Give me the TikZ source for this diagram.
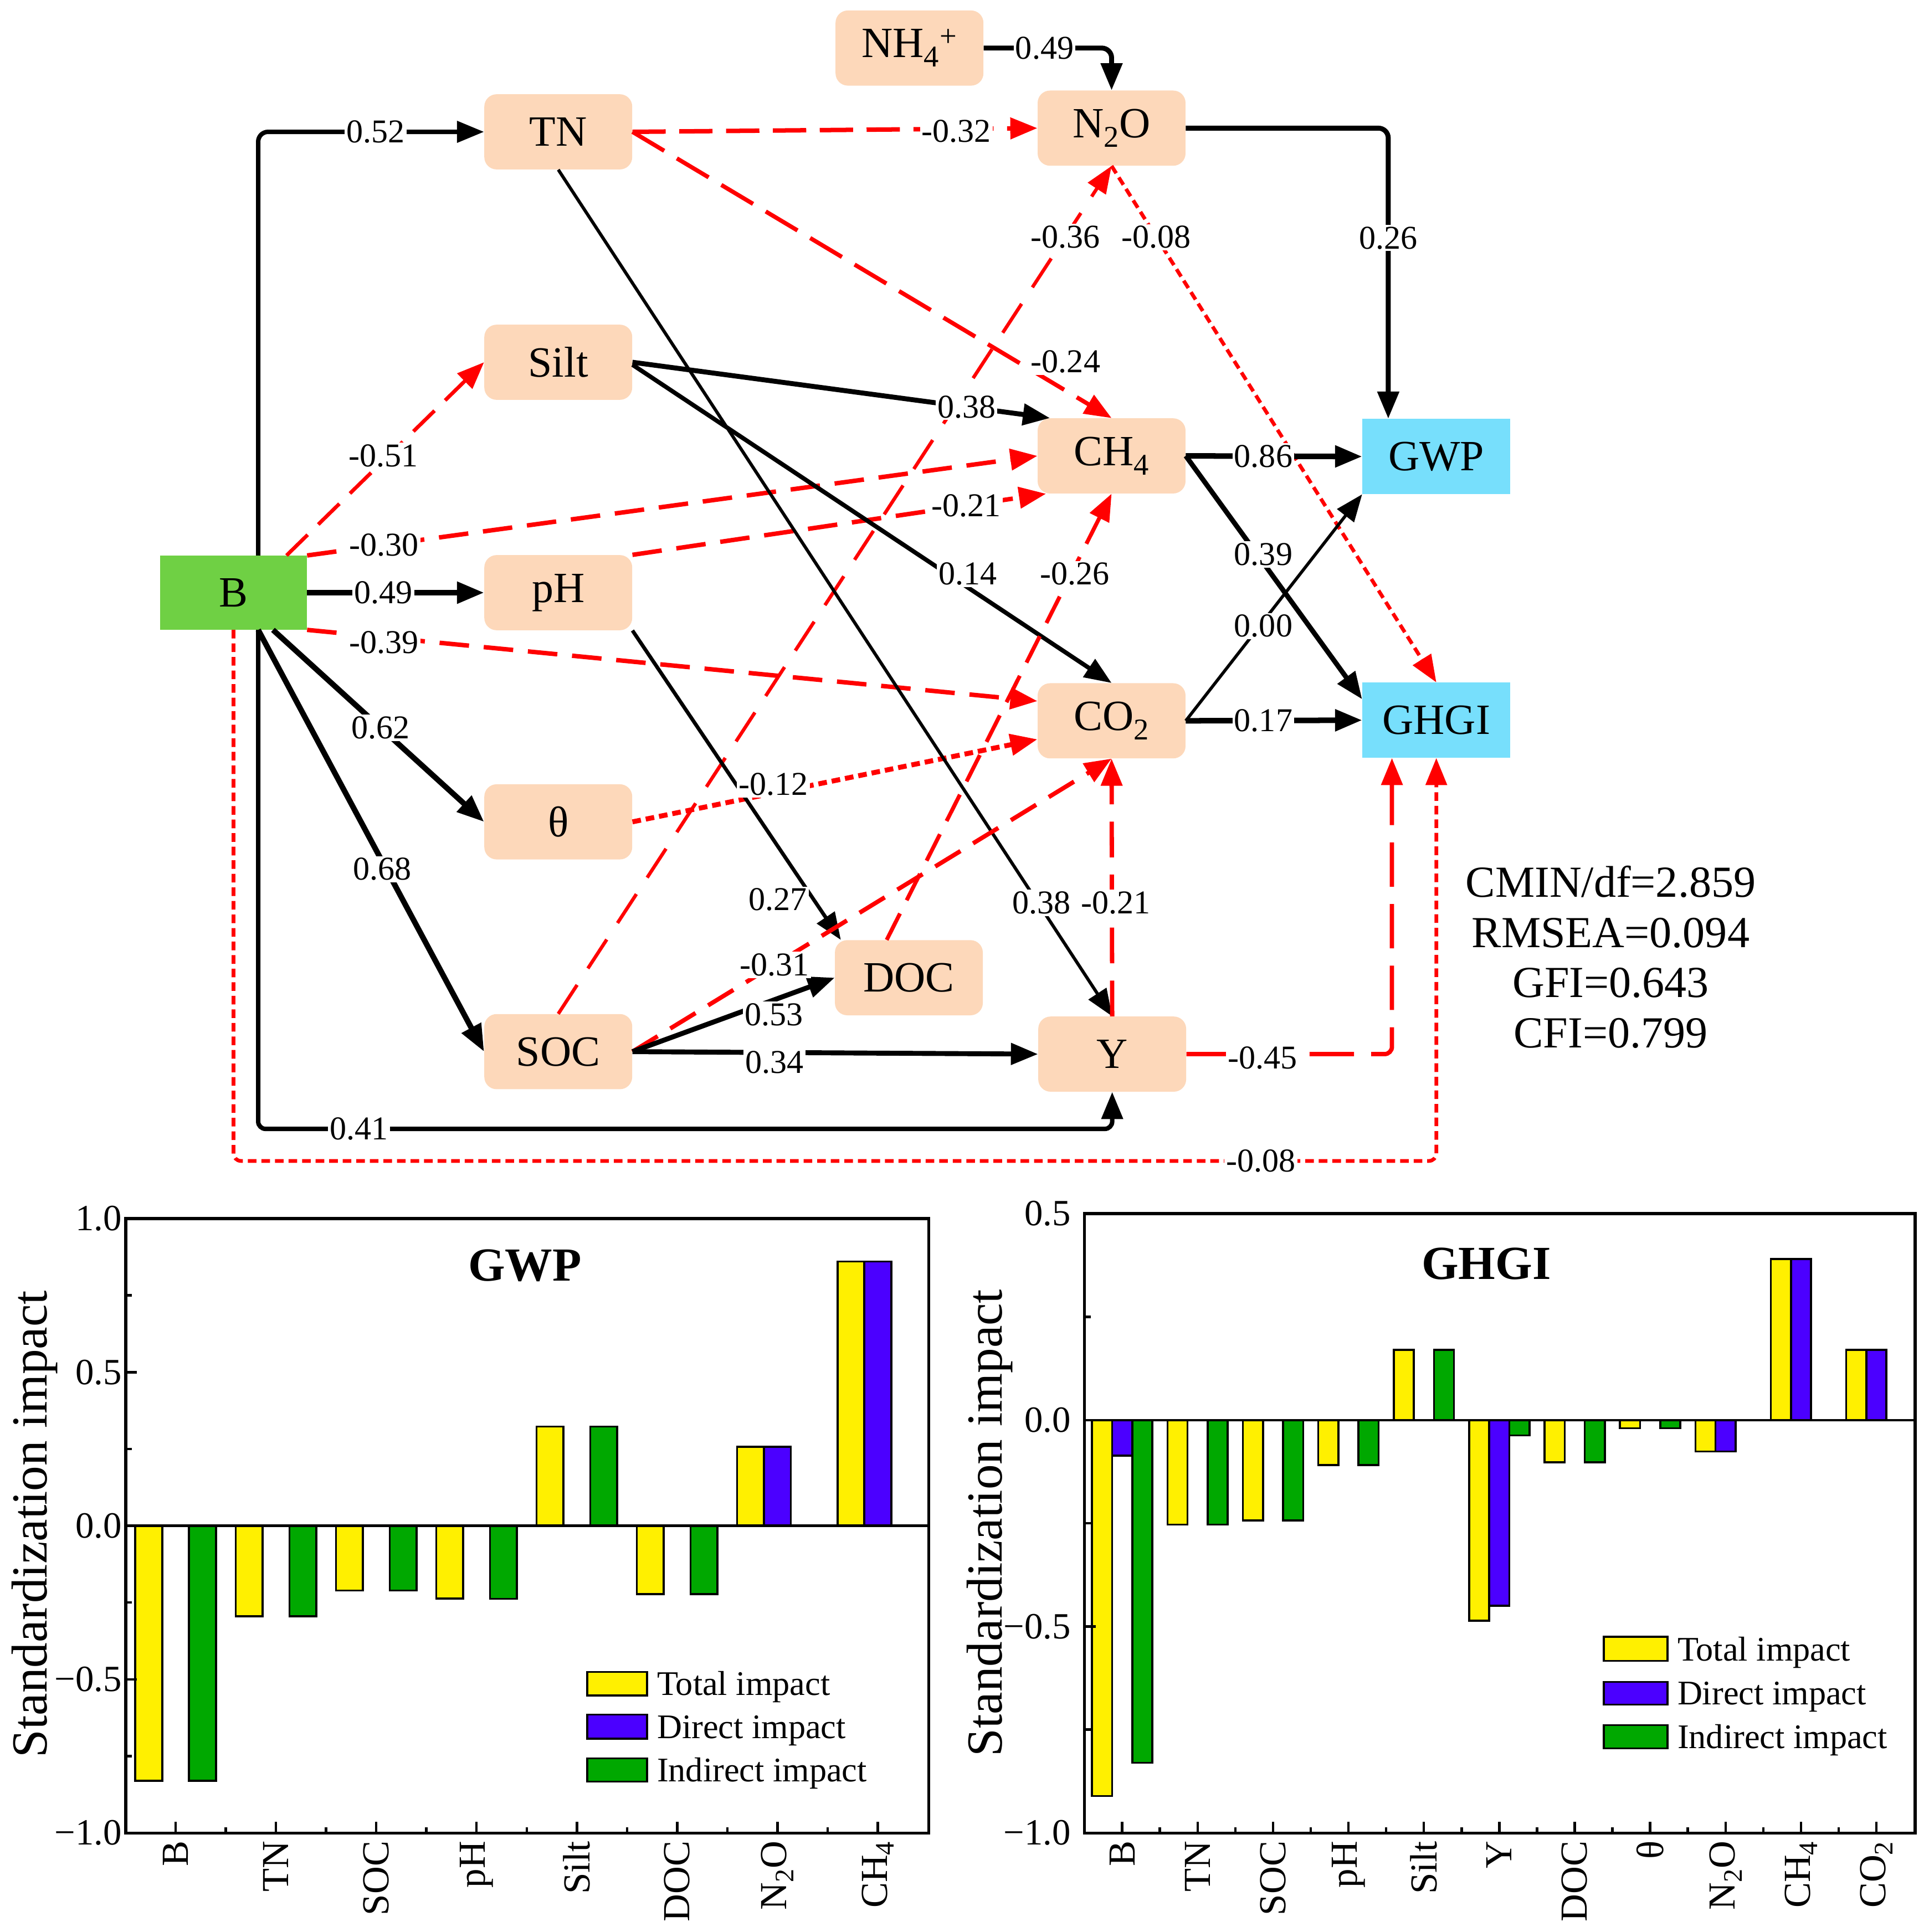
\documentclass[tikz,border=0pt]{standalone}
\usepackage{fontspec}
\setmainfont{Liberation Serif}
\usetikzlibrary{arrows.meta}
\definecolor{peach}{RGB}{253,216,186}
\definecolor{bgreen}{RGB}{111,208,68}
\definecolor{gcyan}{RGB}{119,223,252}
\definecolor{byel}{RGB}{255,240,0}
\definecolor{bblue}{RGB}{75,0,255}
\definecolor{bgrn}{RGB}{0,168,0}
\begin{document}
\begin{tikzpicture}[x=1pt,y=-1pt,
  >={Triangle[length=22pt,width=17pt]},
  vbox/.style={fill=peach, rounded corners=10pt, minimum width=120pt, minimum height=61pt, inner sep=0pt, font=\fontsize{35}{40}\selectfont},
  sbox/.style={fill=#1, minimum width=120pt, minimum height=61pt, inner sep=0pt, font=\fontsize{35}{40}\selectfont},
  lab/.style={fill=white, inner sep=1.5pt, font=\fontsize{27}{30}\selectfont},
  blk/.style={draw=black, ->, line width=#1},
  rdash/.style={draw=red, ->, line width=#1, dash pattern=on 24pt off 12pt},
  rdot/.style={draw=red, ->, line width=#1, dash pattern=on 7pt off 4pt},
  ticklab/.style={inner sep=0pt, font=\fontsize{30}{32}\selectfont},
  leglab/.style={inner sep=0pt, anchor=base west, font=\fontsize{28}{30}\selectfont},
  barbox/.style={draw=black, line width=1.6pt},
  axline/.style={line width=2.4pt},
  tickline/.style={line width=2pt}
]
\fill[white] (0,0) rectangle (1565,1568);
\useasboundingbox (0,0) rectangle (1565,1568);

% ---------- nodes ----------
\node[vbox] (NH) at (738,39) {NH\textsubscript{4}\textsuperscript{+}};
\node[vbox] (TN) at (453,107) {TN};
\node[vbox] (N2O) at (902,104) {N\textsubscript{2}O};
\node[vbox] (Silt) at (453,294) {Silt};
\node[vbox] (CH4) at (902,370) {CH\textsubscript{4}};
\node[sbox=gcyan] (GWP) at (1165.5,370.5) {GWP};
\node[sbox=bgreen, minimum width=119pt, minimum height=60pt] (B) at (189.5,481) {B};
\node[vbox] (pH) at (453,481) {pH};
\node[vbox] (CO2) at (902,585) {CO\textsubscript{2}};
\node[sbox=gcyan] (GHGI) at (1165.5,584.5) {GHGI};
\node[vbox] (theta) at (453,667) {θ};
\node[vbox] (DOC) at (737.5,793.5) {DOC};
\node[vbox] (SOC) at (453,853.5) {SOC};
\node[vbox] (Y) at (902.5,855.5) {Y};

% ---------- connectors ----------
\draw[blk=3.6pt, rounded corners=8pt] ([xshift=20pt]B.north) |- coordinate[pos=.76] (l1) (TN.west);
\draw[blk=4pt, rounded corners=8pt] (NH.east) -| coordinate[pos=.238] (l2) (N2O.north);
\draw[rdash=3.6pt, dash pattern=on 27pt off 11pt] (TN.east) -- coordinate[pos=.8] (l3) (N2O.west);
\draw[rdash=2.8pt, dash pattern=on 28pt off 16pt] (SOC.north) -- coordinate[pos=.916] (l4) (N2O.south);
\draw[rdot=3pt] (N2O.south) -- coordinate[pos=.138] (l5) (GHGI.north);
\draw[blk=4pt, rounded corners=8pt] (N2O.east) -| coordinate[pos=.689] (l6) ([xshift=-39pt]GWP.north);
\draw[rdash=3.4pt, dash pattern=on 30pt off 12pt] (TN.east) -- coordinate[pos=.85] (l7) (CH4.north);
\draw[rdash=3pt] ([xshift=43pt]B.north) -- coordinate[pos=.49] (l8) (Silt.west);
\draw[blk=4pt] (Silt.east) -- coordinate[pos=.8] (l9) ([xshift=-50pt]CH4.north);
\draw[blk=4.5pt] (CH4.east) -- coordinate[pos=.44] (l10) (GWP.west);
\draw[rdash=3.6pt] (B.north east) -- coordinate[pos=.105] (l11) (CH4.west);
\draw[rdash=3.6pt] (pH.north east) -- coordinate[pos=.807] (l12) ([xshift=7pt]CH4.south west);
\draw[blk=3.5pt] ([yshift=-2pt]Silt.east) -- coordinate[pos=.70] (l13) (CO2.north);
\draw[rdash=3.2pt] ([xshift=-18pt]DOC.north) -- coordinate[pos=.82] (l14) (CH4.south);
\draw[blk=4pt] (CH4.east) -- coordinate[pos=.44] (l15) ([yshift=17pt]GHGI.west);
\draw[blk=4.5pt] (B.east) -- coordinate[pos=.43] (l16) (pH.west);
\draw[blk=2.5pt] (CO2.east) -- coordinate[pos=.44] (l17) (GWP.south west);
\draw[rdash=3.6pt] (B.south east) -- coordinate[pos=.105] (l18) ([yshift=16pt]CO2.west);
\draw[blk=4.5pt] (CO2.east) -- coordinate[pos=.44] (l19) (GHGI.west);
\draw[blk=4.5pt] ([xshift=32pt]B.south) -- coordinate[pos=.51] (l20) (theta.west);
\draw[rdot=4pt] (theta.east) -- coordinate[pos=.348] (l21) ([yshift=-15pt]CO2.west);
\draw[blk=4.5pt] ([xshift=20pt]B.south) -- coordinate[pos=.55] (l22) (SOC.west);
\draw[blk=3pt] (pH.south east) -- coordinate[pos=.87] (l23) ([xshift=5pt]DOC.north west);
\draw[blk=2.6pt] (TN.south) -- coordinate[pos=.866] (l24) (Y.north);
\draw[rdash=3.5pt, dash pattern=on 29pt off 14pt] (Y.north) -- coordinate[pos=.44] (l25) (CO2.south);
\draw[rdash=3.5pt] (SOC.east) -- coordinate[pos=.296] (l26) (CO2.south);
\draw[blk=4pt] (SOC.east) -- coordinate[pos=.70] (l27) (DOC.west);
\draw[blk=4pt] (SOC.east) -- coordinate[pos=.35] (l28) (Y.west);
\draw[rdash=3.5pt, dash pattern=on 36pt off 14pt, rounded corners=6pt] (Y.east) -| coordinate[pos=.185] (l29) ([xshift=-36pt]GHGI.south);
\draw[blk=3.6pt, rounded corners=6pt] ([xshift=20pt]B.south) |- coordinate[pos=.559] (l30) ([yshift=-30pt]Y.south) -- (Y.south);
\draw[rdot=3pt, rounded corners=6pt] (B.south) |- coordinate[pos=.927] (l31) ([yshift=-327pt]GHGI.south) -- (GHGI.south);

% ---------- connector labels ----------
\node[lab] at (l1) {0.52};
\node[lab] at (l2) {0.49};
\node[lab, yshift=-2pt] at (l3) {-0.32};
\node[lab] at (l4) {-0.36};
\node[lab] at (l5) {-0.08};
\node[lab] at (l6) {0.26};
\node[lab, xshift=21pt, yshift=11pt] at (l7) {-0.24};
\node[lab, yshift=4pt] at (l8) {-0.51};
\node[lab] at (l9) {0.38};
\node[lab] at (l10) {0.86};
\node[lab] at (l11) {-0.30};
\node[lab] at (l12) {-0.21};
\node[lab, yshift=11pt] at (l13) {0.14};
\node[lab, xshift=3pt] at (l14) {-0.26};
\node[lab, yshift=7pt] at (l15) {0.39};
\node[lab] at (l16) {0.49};
\node[lab, yshift=-4pt] at (l17) {0.00};
\node[lab, yshift=-4pt] at (l18) {-0.39};
\node[lab] at (l19) {0.17};
\node[lab] at (l20) {0.62};
\node[lab, yshift=7pt] at (l21) {-0.12};
\node[lab, yshift=-6pt] at (l22) {0.68};
\node[lab, xshift=-29pt] at (l23) {0.27};
\node[lab, xshift=3pt] at (l24) {0.38};
\node[lab, xshift=3pt] at (l25) {-0.21};
\node[lab] at (l26) {-0.31};
\node[lab, yshift=-12pt] at (l27) {0.53};
\node[lab, yshift=-8pt] at (l28) {0.34};
\node[lab, yshift=-3pt] at (l29) {-0.45};
\node[lab] at (l30) {0.41};
\node[lab] at (l31) {-0.08};

% ---------- fit statistics ----------
\node[anchor=base, inner sep=0pt, font=\fontsize{36}{40}\selectfont] (st1) at (1307,728) {CMIN/df=2.859};
\node[anchor=base, inner sep=0pt, font=\fontsize{36}{40}\selectfont] (st2) at (1307,768.8) {RMSEA=0.094};
\node[anchor=base, inner sep=0pt, font=\fontsize{36}{40}\selectfont] (st3) at (1307,809.6) {GFI=0.643};
\node[anchor=base, inner sep=0pt, font=\fontsize{36}{40}\selectfont] (st4) at (1307,850.4) {CFI=0.799};

% ================= Chart 1 (GWP) =================
\foreach \i/\v in {0/-0.83,1/-0.295,2/-0.211,3/-0.237,4/0.323,5/-0.222,6/0.257,7/0.86}
  \filldraw[fill=byel, barbox] ({142.5+81.4*\i-32.7},1238.3) rectangle ({142.5+81.4*\i-10.9},{1238.3-249.3*(\v)});
\foreach \i/\v in {6/0.257,7/0.86}
  \filldraw[fill=bblue, barbox] ({142.5+81.4*\i-10.9},1238.3) rectangle ({142.5+81.4*\i+10.9},{1238.3-249.3*(\v)});
\foreach \i/\v in {0/-0.83,1/-0.295,2/-0.211,3/-0.238,4/0.323,5/-0.222}
  \filldraw[fill=bgrn, barbox] ({142.5+81.4*\i+10.9},1238.3) rectangle ({142.5+81.4*\i+32.7},{1238.3-249.3*(\v)});
\draw[tickline] (102,1238.3) -- (753.5,1238.3);
\draw[axline] (102,989) rectangle (753.5,1487.6);
\foreach \i in {0,...,7} \draw[tickline] ({142.5+81.4*\i},1487.6) -- ++(0,-9);
\foreach \i in {0,...,6} \draw[tickline] ({142.5+81.4*(\i+0.5)},1487.6) -- ++(0,-4.5);
\foreach \v in {-1,-0.5,0,0.5,1} \draw[tickline] (102,{1238.3-249.3*(\v)}) -- ++(9,0);
\foreach \v in {-0.75,-0.25,0.25,0.75} \draw[tickline] (102,{1238.3-249.3*(\v)}) -- ++(5,0);
\foreach \v/\t in {1/1.0,0.5/0.5,0/0.0,-0.5/−0.5,-1/−1.0}
  \node[ticklab, anchor=east] at (99,{1238.3-249.3*(\v)}) {\t};
\foreach \i/\t in {0/B,1/TN,2/SOC,3/pH,4/Silt,5/DOC,6/N\textsubscript{2}O,7/CH\textsubscript{4}}
  \node[ticklab, rotate=90, anchor=east, font=\fontsize{31}{33}\selectfont] at ({142.5+81.4*\i},1494) {\t};
\node[rotate=90, font=\fontsize{41}{44}\selectfont] (ya1) at (28,1237) {Standardization impact};
\node[anchor=base, font=\bfseries\fontsize{38.5}{40}\selectfont] (t1) at (426,1039.5) {GWP};
\filldraw[fill=byel, barbox] (476.5,1357) rectangle (525,1376);
\filldraw[fill=bblue, barbox] (476.5,1391.5) rectangle (525,1411);
\filldraw[fill=bgrn, barbox] (476.5,1427) rectangle (525,1446);
\node[leglab] at (533,1376) {Total impact};
\node[leglab] at (533,1411) {Direct impact};
\node[leglab] at (533,1446) {Indirect impact};

% ================= Chart 2 (GHGI) =================
\foreach \i/\v in {0/-0.911,1/-0.253,2/-0.243,3/-0.109,4/0.170,5/-0.486,6/-0.102,7/-0.0195,8/-0.076,9/0.39,10/0.17}
  \filldraw[fill=byel, barbox] ({910.6+61.2*\i-24.45},1152.5) rectangle ({910.6+61.2*\i-8.15},{1152.5-335*(\v)});
\foreach \i/\v in {0/-0.086,5/-0.450,8/-0.076,9/0.39,10/0.17}
  \filldraw[fill=bblue, barbox] ({910.6+61.2*\i-8.15},1152.5) rectangle ({910.6+61.2*\i+8.15},{1152.5-335*(\v)});
\foreach \i/\v in {0/-0.830,1/-0.253,2/-0.243,3/-0.109,4/0.170,5/-0.037,6/-0.102,7/-0.0195}
  \filldraw[fill=bgrn, barbox] ({910.6+61.2*\i+8.15},1152.5) rectangle ({910.6+61.2*\i+24.45},{1152.5-335*(\v)});
\draw[tickline] (880,1152.5) -- (1554,1152.5);
\draw[axline] (880,985) rectangle (1554,1487.6);
\foreach \i in {0,...,10} \draw[tickline] ({910.6+61.2*\i},1487.6) -- ++(0,-9);
\foreach \i in {0,...,9} \draw[tickline] ({910.6+61.2*(\i+0.5)},1487.6) -- ++(0,-4.5);
\foreach \v in {-1,-0.5,0,0.5} \draw[tickline] (880,{1152.5-335*(\v)}) -- ++(9,0);
\foreach \v in {-0.75,-0.25,0.25} \draw[tickline] (880,{1152.5-335*(\v)}) -- ++(5,0);
\foreach \v/\t in {0.5/0.5,0/0.0,-0.5/−0.5,-1/−1.0}
  \node[ticklab, anchor=east] at (869,{1152.5-335*(\v)}) {\t};
\foreach \i/\t in {0/B,1/TN,2/SOC,3/pH,4/Silt,5/Y,6/DOC,7/θ,8/N\textsubscript{2}O,9/CH\textsubscript{4},10/CO\textsubscript{2}}
  \node[ticklab, rotate=90, anchor=east, font=\fontsize{31}{33}\selectfont] at ({910.6+61.2*\i},1494) {\t};
\node[rotate=90, font=\fontsize{41}{44}\selectfont] (ya2) at (803,1236) {Standardization impact};
\node[anchor=base, font=\bfseries\fontsize{38.5}{40}\selectfont] (t2) at (1206,1038) {GHGI};
\filldraw[fill=byel, barbox] (1301.5,1328.5) rectangle (1353,1348);
\filldraw[fill=bblue, barbox] (1301.5,1365) rectangle (1353,1383.5);
\filldraw[fill=bgrn, barbox] (1301.5,1400) rectangle (1353,1419);
\node[leglab] at (1361,1348) {Total impact};
\node[leglab] at (1361,1383.5) {Direct impact};
\node[leglab] at (1361,1419) {Indirect impact};
\end{tikzpicture}
\end{document}
